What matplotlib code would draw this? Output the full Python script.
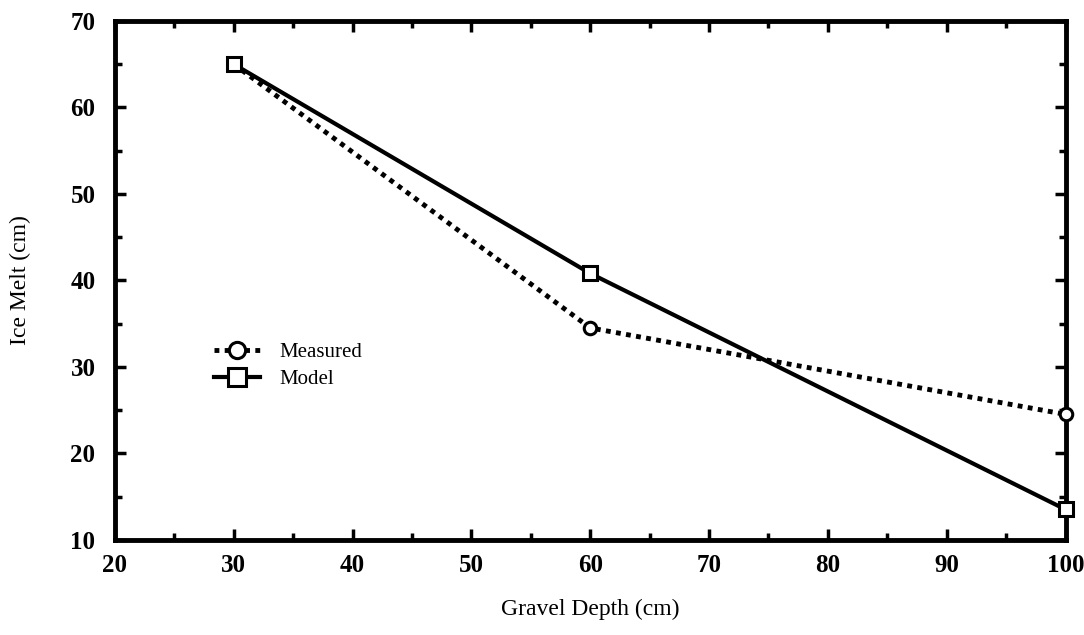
import matplotlib
matplotlib.use('Agg')
import matplotlib.pyplot as plt
from matplotlib.ticker import MultipleLocator

depth = [30, 60, 100]
measured = [65, 34.5, 24.5]
model = [65, 40.8, 13.5]

plt.rcParams['font.family'] = ['Liberation Serif', 'DejaVu Serif']

fig = plt.figure(figsize=(10.84, 6.35), dpi=100)
ax = fig.add_axes([0.106, 0.150, 0.877, 0.817])

ax.plot(depth, measured, color='black', lw=3.5, ls=(0, (1, 1.1)), marker='o',
        ms=9, mfc='white', mec='black', mew=2.2, label='Measured', clip_on=False, zorder=3)
ax.plot(depth, model, color='black', lw=3, ls='-', marker='s',
        ms=10, mfc='white', mec='black', mew=2.2, label='Model', clip_on=False, zorder=4)

ax.set_xlim(20, 100)
ax.set_ylim(10, 70)
ax.xaxis.set_major_locator(MultipleLocator(10))
ax.xaxis.set_minor_locator(MultipleLocator(5))
ax.yaxis.set_major_locator(MultipleLocator(10))
ax.yaxis.set_minor_locator(MultipleLocator(5))
ax.tick_params(which='both', direction='in', top=True, right=True, width=2.5, labelsize=18)
ax.tick_params(which='major', length=8)
ax.tick_params(which='minor', length=5)
for lab in ax.get_xticklabels() + ax.get_yticklabels():
    lab.set_fontweight('bold')
ax.tick_params(axis='x', pad=10)
ax.tick_params(axis='y', pad=14)
for s in ax.spines.values():
    s.set_linewidth(3.5)

ax.set_xlabel('Gravel Depth (cm)', fontsize=17, labelpad=16)
ax.set_ylabel('Ice Melt (cm)', fontsize=17, labelpad=28)

ax.legend(loc='center left', bbox_to_anchor=(0.085, 0.335), frameon=False, fontsize=15,
          handlelength=2.2, handletextpad=0.9, labelspacing=0.35, markerscale=1.3)

fig.savefig('out.png', dpi=100)
